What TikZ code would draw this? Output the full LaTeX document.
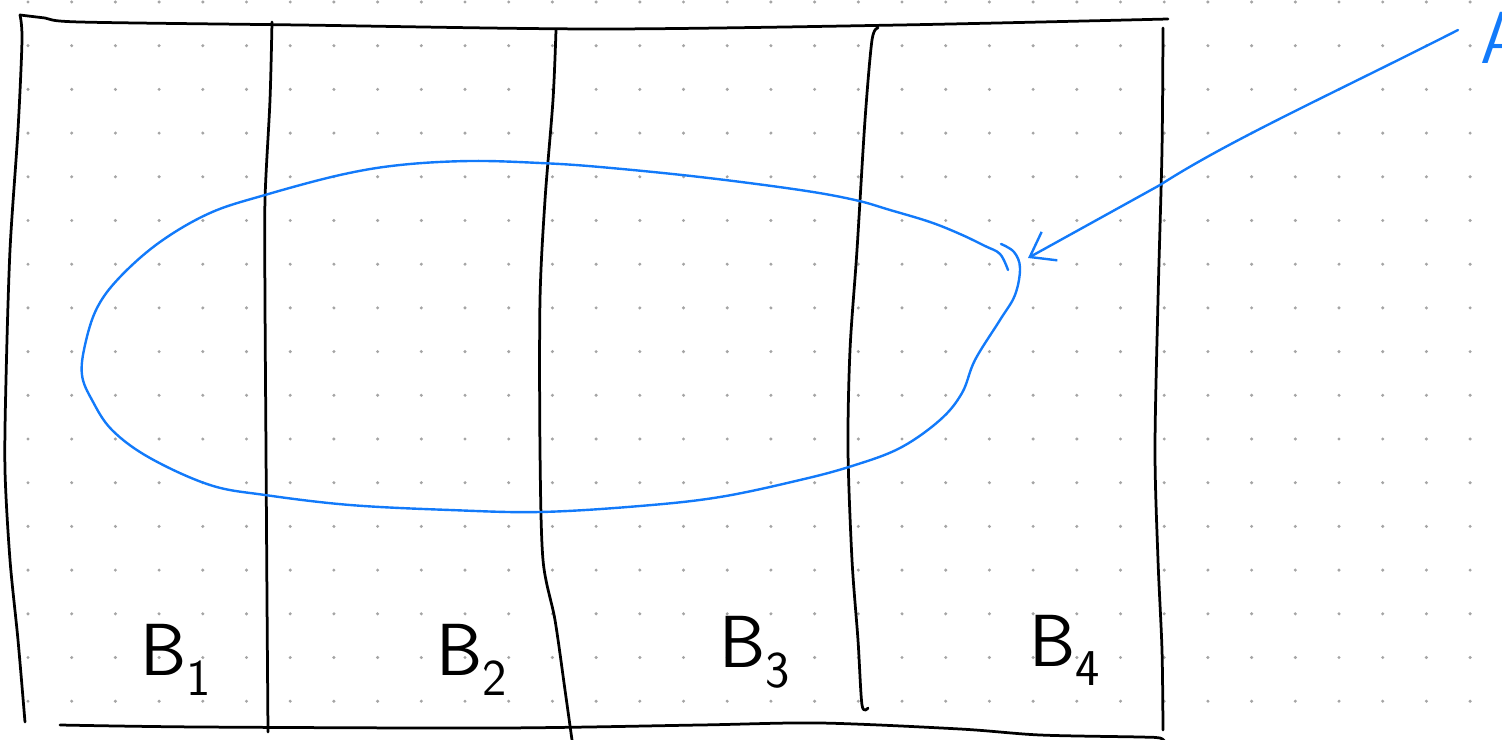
\documentclass[tikz,border=0pt]{standalone}
\usetikzlibrary{arrows.meta}
\definecolor{penblue}{RGB}{18,122,250}
\definecolor{dotgray}{RGB}{165,165,165}

\begin{document}
\begin{tikzpicture}[
    x=0.02cm, y=-0.02cm,
    ink/.style={line width=0.055cm, line cap=round, line join=round},
    blueink/.style={draw=penblue, line width=0.048cm, line cap=round, line join=round},
    lbl/.style={font=\sffamily\fontsize{42}{44}\selectfont, inner sep=0pt},
    griddot/.style={fill=dotgray, draw=none}
  ]
  \useasboundingbox (0,0) rectangle (1502,740);
  % Punktraster
  \foreach \i in {0,...,33}
    \foreach \j in {0,...,16}
      \fill[griddot] (28+43.7*\i, 2+43.7*\j) circle (1.7);
  % Rahmen
  \draw[ink] plot[smooth] coordinates {(20,15) (45,18) (80,22) (300,25) (600,29) (900,25) (1168,19)};
  \draw[ink] plot[smooth] coordinates {(20,15) (22,40) (18,130) (10,250) (6,380) (5,470) (10,560) (18,640) (25,722)};
  \draw[ink] plot[smooth] coordinates {(1163,28) (1162,150) (1158,300) (1155,450) (1158,560) (1162,650) (1163,730)};
  \draw[ink] plot[smooth] coordinates {(60,725) (200,727) (500,728) (700,725) (820,723) (960,729) (1040,735) (1140,737) (1160,738) (1165,742)};
  % Trennlinien
  \draw[ink] plot[smooth] coordinates {(272,22) (270,100) (265,200) (265,300) (266,450) (267,600) (268,732)};
  \draw[ink] plot[smooth] coordinates {(556,30) (553,100) (545,200) (540,300) (540,450) (543,560) (555,620) (565,690) (572,740)};
  \draw[ink] plot[smooth] coordinates {(878,28) (872,40) (865,120) (857,250) (850,350) (848,450) (852,560) (858,640) (862,705) (868,708)};
  % Bloecke
  \node[lbl] (b1) at (176,660) {B\textsubscript{1}};
  \node[lbl] (b2) at (472,660) {B\textsubscript{2}};
  \node[lbl] (b3) at (755,652) {B\textsubscript{3}};
  \node[lbl] (b4) at (1065,650) {B\textsubscript{4}};
  % Menge A
  \draw[blueink] plot[smooth, tension=0.6] coordinates {(1008,270) (1000,254) (985,246) (960,234) (930,222) (890,210) (855,200) (800,190) (700,177) (600,167) (540,163) (470,161) (400,165) (340,175) (265,195) (210,213) (160,242) (120,277) (97,308) (85,345) (82,375) (92,400) (112,430) (150,458) (210,485) (265,495) (350,505) (450,510) (540,512) (640,506) (720,497) (800,480) (852,466) (900,448) (940,420) (962,393) (975,360) (1000,320) (1015,295) (1020,268) (1014,252) (1001,244)};
  \node[lbl, text=penblue, anchor=west] (a) at (1480,38) {A};
  \coordinate (atail) at (1458,30);
  \coordinate (ahead) at (1028,258);
  \draw[blueink, -{Straight Barb[length=0.45cm, width=0.65cm]}] (atail) .. controls (1330,95) and (1230,140) .. (1160,185) -- (ahead);
\end{tikzpicture}
\end{document}
